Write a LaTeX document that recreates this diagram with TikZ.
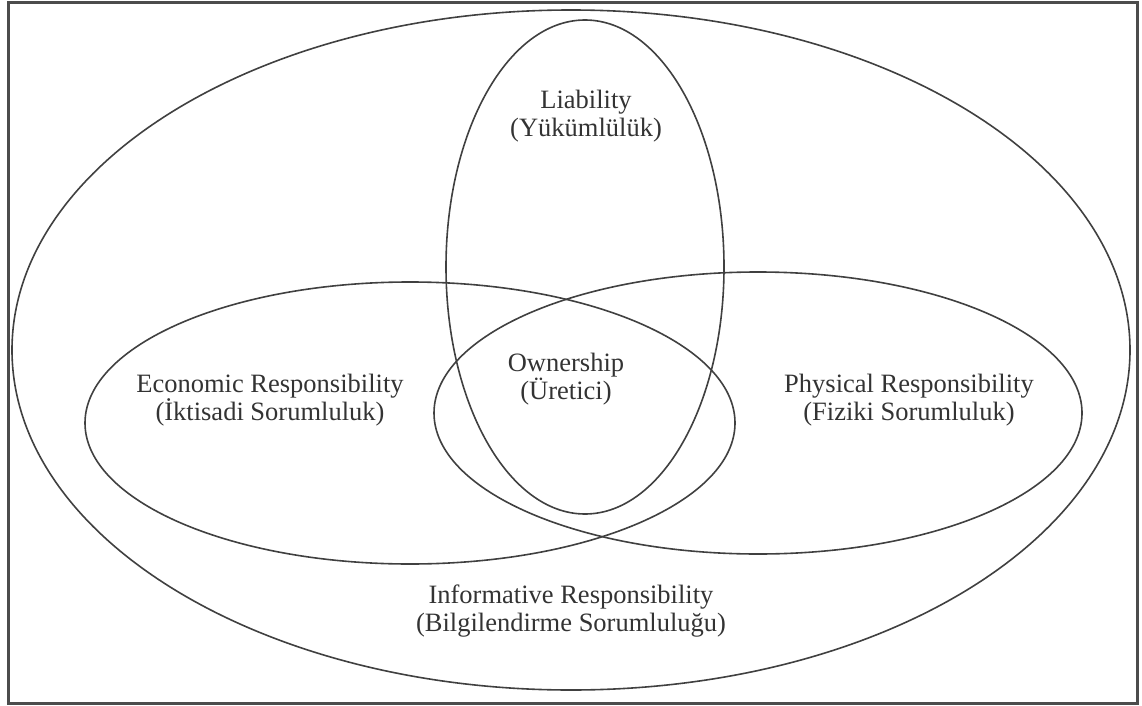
\documentclass[tikz,border=0pt]{standalone}
\usepackage{fontspec}
\setmainfont{Liberation Serif}
\usepackage{tikz}

\begin{document}
\begin{tikzpicture}[x=1pt,y=-1pt,
  ring/.style={draw=black!75,line width=1.6pt},
  main node/.style={align=center,text=black!80,font=\fontsize{26.5}{28}\selectfont}]

  \useasboundingbox (0,0) rectangle (1142,706);
  \draw[draw=black!70,line width=3pt] (8,3) rectangle (1137,703);

  \coordinate (info) at (571,350);
  \coordinate (liab) at (585,267);
  \coordinate (econ) at (410,423);
  \coordinate (phys) at (758,413);

  \draw[ring] (info) ellipse [x radius=559,y radius=340];
  \draw[ring] (liab) ellipse [x radius=139,y radius=247];
  \draw[ring] (econ) ellipse [x radius=325,y radius=141];
  \draw[ring] (phys) ellipse [x radius=324,y radius=141];

  \node[main node] (l) at (586,116) {Liability\\(Yükümlülük)};
  \node[main node] (o) at (566,379) {Ownership\\(Üretici)};
  \node[main node] (e) at (270,400) {Economic Responsibility\\(İktisadi Sorumluluk)};
  \node[main node] (p) at (909,400) {Physical Responsibility\\(Fiziki Sorumluluk)};
  \node[main node] (i) at (571,611) {Informative Responsibility\\(Bilgilendirme Sorumluluğu)};
\end{tikzpicture}
\end{document}
